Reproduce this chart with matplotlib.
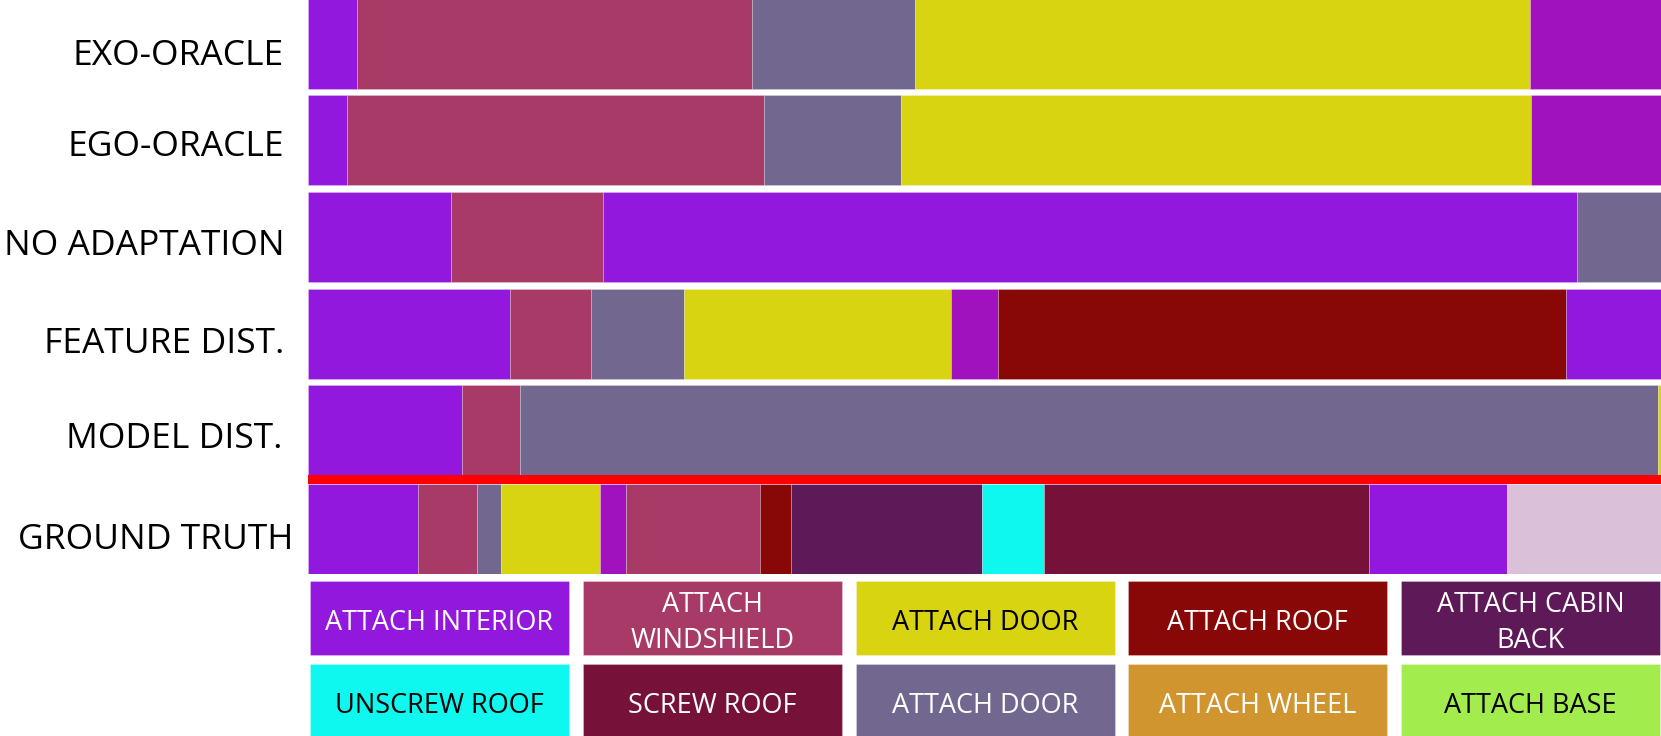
import matplotlib
matplotlib.use("Agg")
import matplotlib.pyplot as plt

# ---------------- data ----------------
row_names = ["EXO-ORACLE", "EGO-ORACLE", "NO ADAPTATION", "FEATURE DIST.",
             "MODEL DIST.", "GROUND TRUTH"]

# segment boundaries (percent of the video), and segment action keys
exo_bounds = [0, 3.6, 32.8, 44.9, 90.3, 100]
exo_labels = ["interior", "windshield", "door_gray", "door", "magenta"]

ego_bounds = [0, 2.9, 33.7, 43.8, 90.4, 100]
ego_labels = ["interior", "windshield", "door_gray", "door", "magenta"]

noad_bounds = [0, 10.6, 21.8, 93.8, 100]
noad_labels = ["interior", "windshield", "interior", "door_gray"]

feat_bounds = [0, 14.9, 20.9, 27.8, 47.5, 51.0, 93.0, 100]
feat_labels = ["interior", "windshield", "door_gray", "door", "magenta", "roof", "interior"]

model_bounds = [0, 11.4, 15.7, 99.8, 100]
model_labels = ["interior", "windshield", "door_gray", "door"]

gt_bounds = [0, 8.1, 12.5, 14.3, 21.6, 23.5, 33.4, 35.7, 49.8, 54.4, 78.4, 88.6, 100]
gt_labels = ["interior", "windshield", "door_gray", "door", "magenta", "windshield",
             "roof", "cabin", "unscrew", "screw", "interior", "lightpink"]

colors = {
    "interior": "#9318DE",
    "windshield": "#A83A68",
    "door": "#D9D412",
    "roof": "#880808",
    "cabin": "#5E1A58",
    "unscrew": "#0EF8F0",
    "screw": "#76123A",
    "door_gray": "#72678F",
    "wheel": "#D1952F",
    "base": "#A3EC4E",
    "magenta": "#A012BE",
    "lightpink": "#DAC0D8",
}

legend_keys = [["interior", "windshield", "door", "roof", "cabin"],
               ["unscrew", "screw", "door_gray", "wheel", "base"]]
legend_texts = [["ATTACH INTERIOR", "ATTACH\nWINDSHIELD", "ATTACH DOOR", "ATTACH ROOF", "ATTACH CABIN\nBACK"],
                ["UNSCREW ROOF", "SCREW ROOF", "ATTACH DOOR", "ATTACH WHEEL", "ATTACH BASE"]]
legend_textcolors = [["white", "white", "black", "white", "white"],
                     ["black", "white", "white", "white", "black"]]

rows = [(exo_bounds, exo_labels), (ego_bounds, ego_labels), (noad_bounds, noad_labels),
        (feat_bounds, feat_labels), (model_bounds, model_labels), (gt_bounds, gt_labels)]

# ---------------- layout (pixels) ----------------
W, H = 1661, 736
row_centers = [43.5, 139.5, 237, 334, 430, 529]
row_height = 90
label_cy = [52, 143, 242, 340.5, 435.5, 536]
label_x = [284, 284, 285, 284, 283, 293]

FONT = "Open Sans"
LABEL_FS = 25.5
LEG_FS = 19.5
PX = 100 / 72.0
CAP = 0.714
label_cap = LABEL_FS * PX * CAP
leg_cap = LEG_FS * PX * CAP

fig = plt.figure(figsize=(W / 100, H / 100), dpi=100)
fig.patch.set_facecolor("white")

# bars axes: x 308..1661 px, y 0..574 px
bx0, bx1, by0, by1 = 308, 1661, 0, 574
ax = fig.add_axes([bx0 / W, 1 - by1 / H, (bx1 - bx0) / W, (by1 - by0) / H])
ax.set_xlim(0, 100)
ax.set_ylim(by1, by0)
ax.axis("off")

for (bounds, labs), yc in zip(rows, row_centers):
    lefts = bounds[:-1]
    widths = [b - a for a, b in zip(bounds[:-1], bounds[1:])]
    cols = [colors[k] for k in labs]
    ax.barh([yc] * len(lefts), widths, left=lefts, height=row_height,
            color=cols, edgecolor=(1, 1, 1, 0.25), linewidth=0.6)

# red separator between predictions and ground truth
ax.axhspan(475, 484, color="#FF0000", lw=0)

# row labels
for name, cy, lx in zip(row_names, label_cy, label_x):
    fig.text(lx / W, 1 - (cy + label_cap / 2) / H, name, ha="right", va="baseline",
             fontsize=LABEL_FS, family=FONT, color="black")

# legend axes: x 310..1661, y 581..736
lx0, lx1, ly0, ly1 = 310, 1661, 581, 736
lax = fig.add_axes([lx0 / W, 1 - ly1 / H, (lx1 - lx0) / W, (ly1 - ly0) / H])
pitch_x, box_w = 272.75, 259
pitch_y, box_h = 83, 74
line_gap = 36.5
lax.set_xlim(0, lx1 - lx0)
lax.set_ylim(ly1 - ly0, 0)
lax.axis("off")
for r in range(2):
    for c in range(5):
        key = legend_keys[r][c]
        x0 = c * pitch_x
        y0 = r * pitch_y
        lax.bar(x0, box_h, width=box_w, bottom=y0, align="edge",
                color=colors[key], edgecolor=(1, 1, 1, 0.3), linewidth=0.6)
        lines = legend_texts[r][c].split("\n")
        n = len(lines)
        cy = y0 + 39.5
        for i, line in enumerate(lines):
            ly = cy + (i - (n - 1) / 2) * line_gap + leg_cap / 2
            lax.text(x0 + box_w / 2, ly, line, ha="center", va="baseline",
                     fontsize=LEG_FS, family=FONT, color=legend_textcolors[r][c])

fig.savefig("out.png", dpi=100, facecolor="white")
